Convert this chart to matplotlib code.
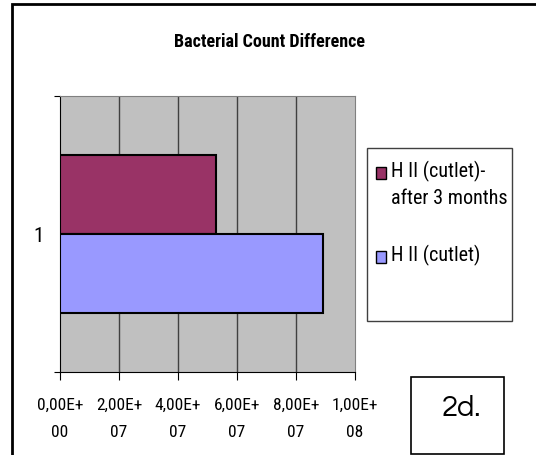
import matplotlib.pyplot as plt
from matplotlib.patches import Rectangle
from matplotlib.font_manager import fontManager

# data
categories = ["1"]
series_names = ["H II (cutlet)-\nafter 3 months", "H II (cutlet)"]
series_values = [5.3e7, 8.92e7]
series_colors = ["#993366", "#9999FF"]
x_ticks = [0, 2e7, 4e7, 6e7, 8e7, 1e8]
x_tick_labels = ["0,00E+\n00", "2,00E+\n07", "4,00E+\n07", "6,00E+\n07", "8,00E+\n07", "1,00E+\n08"]


def first_font(candidates, default, bold=False):
    for c in candidates:
        weights = [f.weight for f in fontManager.ttflist if f.name == c]
        weights = [w if isinstance(w, int) else (700 if w == "bold" else 400) for w in weights]
        if weights and (not bold or max(weights) >= 600):
            return c
    return default


narrow_list = ["Liberation Sans Narrow", "Arial Narrow", "Roboto Condensed", "Archivo Narrow",
               "PT Sans Narrow", "Pragati Narrow"]
narrow = first_font(narrow_list, "Liberation Sans")
narrow_bold = first_font(narrow_list, "Liberation Sans", bold=True)
gothic = first_font(["Century Gothic", "Questrial", "Didact Gothic", "Poppins"], "Lato")
plt.rcParams["font.family"] = [narrow, "DejaVu Sans"]

W, H = 536, 456
fig = plt.figure(figsize=(W / 100, H / 100), dpi=100)

# outer frame (cropped at right and bottom)
fig.patches.append(Rectangle((12 / W, -0.1), 1.2, 1 - 5 / H + 0.1, transform=fig.transFigure,
                             fill=False, edgecolor="black", linewidth=2))

# plot area in pixels
left, right, top, bottom = 60, 355, 97, 373
ax = fig.add_axes([left / W, 1 - bottom / H, (right - left) / W, (bottom - top) / H])
ax.set_facecolor("#C0C0C0")
ax.set_xlim(0, 1e8)
ax.set_ylim(-0.5, 0.5)

bar_h = 0.286
offsets = [bar_h / 2, -bar_h / 2]
for name, val, col, off in zip(series_names, series_values, series_colors, offsets):
    ax.barh(0 + off, val, height=bar_h, color=col, edgecolor="black", linewidth=1.5,
            label=name, zorder=3)

for xv in x_ticks[1:-1]:
    ax.axvline(xv, color="#404040", linewidth=1, zorder=1)

for s in ["top", "right"]:
    ax.spines[s].set_color("#808080")
ax.spines["left"].set_color("black")
ax.spines["bottom"].set_color("black")

ax.set_xticks(x_ticks)
ax.set_xticklabels(x_tick_labels, fontsize=12.5, linespacing=2.0)
ax.tick_params(axis="x", direction="out", length=6, pad=12)
ax.set_yticks([-0.5, 0.5])
ax.set_yticklabels([])
ax.set_yticks([0], minor=True)
ax.set_yticklabels(categories, minor=True, fontsize=15)
ax.tick_params(axis="y", which="major", direction="out", length=4)
ax.tick_params(axis="y", which="minor", length=0, pad=12)

fig.text(270 / W, 1 - 42 / H, "Bacterial Count Difference", ha="center", va="center",
         fontsize=13, fontweight="bold", family=[narrow_bold, "DejaVu Sans"])

# legend
fig.patches.append(Rectangle((367 / W, 1 - 322 / H), 145 / W, 173 / H, transform=fig.transFigure,
                             facecolor="white", edgecolor="#404040", linewidth=1))
leg_y = [174, 258]
for name, col, y in zip(series_names, series_colors, leg_y):
    fig.patches.append(Rectangle((376 / W, 1 - (y + 6) / H), 10 / W, 12 / H,
                                 transform=fig.transFigure, facecolor=col,
                                 edgecolor="black", linewidth=1))
    fig.text(391 / W, 1 - (y - 13) / H, name, ha="left", va="top", fontsize=14.5,
             linespacing=1.45)

# "2d." label box
fig.patches.append(Rectangle((411 / W, 1 - 455 / H), 93 / W, 77 / H, transform=fig.transFigure,
                             facecolor="white", edgecolor="black", linewidth=1.2))
fig.text(461 / W, 1 - 409 / H, "2d.", ha="center", va="center", fontsize=21,
         family=[gothic, "DejaVu Sans"])

fig.savefig("out.png", dpi=100)
